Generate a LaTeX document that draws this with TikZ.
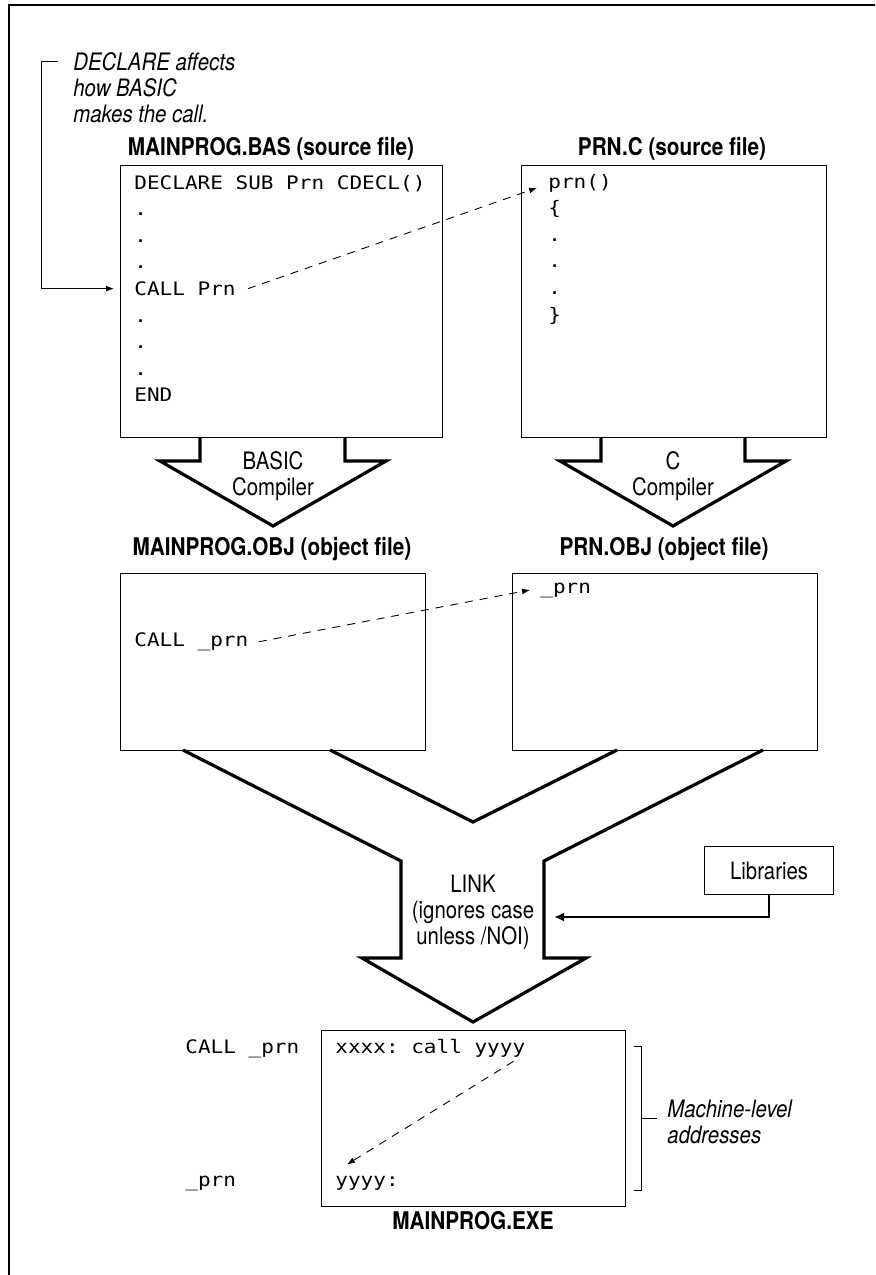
\documentclass[tikz,border=0pt]{standalone}
\usepackage{fontspec}
\setsansfont{TeX Gyre Heros}[FakeStretch=0.85]
\setmonofont{DejaVu Sans Mono}[FakeStretch=1.13]
\usetikzlibrary{arrows.meta, positioning}

\begin{document}
\begin{tikzpicture}[
      x=0.5pt, y=-0.5pt,
      every node/.style={font=\sffamily\fontsize{12}{13}\selectfont, inner sep=0pt},
      filebox/.style={draw, line width=0.6pt, anchor=north west},
      title/.style={font=\sffamily\bfseries\fontsize{12.2}{13}\selectfont, anchor=base},
      code/.style={font=\ttfamily\fontsize{9.3}{10}\selectfont, anchor=base west},
      note/.style={font=\sffamily\itshape\fontsize{12}{13}\selectfont, align=left, anchor=north west},
      fatline/.style={line width=1.6pt, line join=miter, miter limit=20},
      dasharrow/.style={line width=0.45pt, dash pattern=on 4pt off 3.5pt, -{Latex[length=4pt, width=3pt]}},
      thinarrow/.style={line width=0.5pt, -{Latex[length=4pt, width=3pt]}}
    ]
    \useasboundingbox (0,0) rectangle (875,1275);
    % frame
    \draw[line width=0.7pt] (9,1275) -- (9,5) -- (875,5);

    % source files
    \node[filebox, minimum width=161pt, minimum height=136pt] (bas) at (120,165) {};
    \node[filebox, minimum width=152.5pt, minimum height=136pt] (prnsrc) at (521,165) {};
    \node[title] (bastitle) at (271,155) {MAINPROG.BAS (source file)};
    \node[title] (prnsrctitle) at (672,155) {PRN.C (source file)};
    \foreach \txt [count=\i] in {DECLARE SUB Prn CDECL(), ., ., ., CALL Prn, ., ., ., END}
      \node[code] (basline\i) at (134,{162.4+26.6*\i}) {\txt};
    \foreach \txt [count=\i] in {prn(), \{, ., ., ., \}}
      \node[code] (prnline\i) at (548,{161.4+26.6*\i}) {\txt};
    \draw[dasharrow] ([xshift=6pt]basline5.east) -- ([xshift=-5.5pt, yshift=-2.5pt]prnline1.west);

    % DECLARE note
    \node[note] (declnote) at (73,52) {DECLARE affects\\how BASIC\\makes the call.};
    \coordinate (notestart) at (58,61);
    \draw[thinarrow] (notestart) -- ++(-17,0) |- ([xshift=-10pt]basline5.west);

    % compilers
    \draw[fatline] (200,437) -- (200,461) -- (160,461) -- (273,526) -- (386,461) -- (345,461) -- (345,437);
    \draw[fatline] (601,437) -- (601,461) -- (560,461) -- (673,526) -- (786,461) -- (745,461) -- (745,437);
    \node[align=center, anchor=north] (bascomp) at (273,451) {BASIC\\Compiler};
    \node[align=center, anchor=north] (ccomp) at (673,451) {C\\Compiler};

    % object files
    \node[title] (basobjtitle) at (272,555) {MAINPROG.OBJ (object file)};
    \node[title] (prnobjtitle) at (664,555) {PRN.OBJ (object file)};
    \node[filebox, minimum width=152.5pt, minimum height=88.5pt] (basobj) at (120,573) {};
    \node[filebox, minimum width=152.5pt, minimum height=88.5pt] (prnobj) at (512,573) {};
    \node[code] (objcall) at (134,646.5) {CALL \_prn};
    \node[code] (objprn) at (540,593) {\_prn};
    \draw[dasharrow] ([xshift=5pt]objcall.east) -- ([xshift=-5pt]objprn.west);

    % LINK
    \draw[fatline] (183,750) -- (401,861) -- (401,958) -- (362,958) -- (473,1022)
      -- (586,958) -- (544,958) -- (544,861) -- (763,750);
    \draw[fatline] (330,750) -- (473,822) -- (617,750);
    \node[align=center, anchor=north] (linktext) at (473,875) {LINK\\(ignores case\\unless /NOI)};
    \node[filebox, minimum width=64.5pt, minimum height=24pt] (libs) at (704,846) {Libraries};
    \coordinate (linkin) at (554,917);
    \draw[line width=1.3pt, -{Latex[length=5pt, width=4.5pt]}] (libs.south) |- (linkin);

    % executable
    \node[filebox, minimum width=152pt, minimum height=88pt] (exe) at (321,1030) {};
    \node[title] (exetitle) at (473,1229) {MAINPROG.EXE};
    \node[code] (execall) at (335,1053) {xxxx: call yyyy};
    \node[code] (exeprn) at (335,1186) {yyyy:};
    \node[code] (execalllab) at (185,1053) {CALL \_prn};
    \node[code] (exeprnlab) at (185,1186) {\_prn};
    \draw[dasharrow] ([xshift=-6pt, yshift=-2pt]execall.south east) -- ([xshift=6pt, yshift=5.5pt]exeprn.north west);
    \draw[line width=0.5pt] (634,1046) -- (641,1046) -- (641,1190) -- (634,1190);
    \draw[line width=0.5pt] (641,1118) -- (657,1118);
    \node[note] (machnote) at (667,1100) {Machine-level\\addresses};
\end{tikzpicture}
\end{document}
